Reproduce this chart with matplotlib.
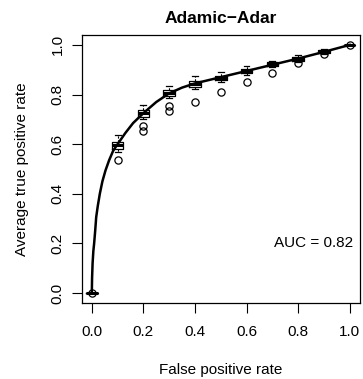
import numpy as np
import matplotlib
matplotlib.use("Agg")
import matplotlib.pyplot as plt

plt.rcParams['font.family'] = ['Liberation Sans', 'DejaVu Sans']

# averaged ROC curve
curve_fpr = [0, 0.001, 0.003, 0.006, 0.009, 0.013, 0.017, 0.023, 0.031, 0.041,
             0.053, 0.067, 0.083, 0.1, 0.13, 0.16, 0.2, 0.25, 0.3, 0.35, 0.4,
             0.5, 0.6, 0.7, 0.8, 0.9, 1.0]
curve_tpr = [0, 0.06, 0.12, 0.17, 0.2, 0.25, 0.306, 0.35, 0.4, 0.45,
             0.494, 0.535, 0.574, 0.6, 0.645, 0.685, 0.725, 0.77, 0.805, 0.828, 0.845,
             0.87, 0.895, 0.92, 0.945, 0.972, 1.0]

# boxplot summaries at each false positive rate
box_x = [0.0, 0.1, 0.2, 0.3, 0.4, 0.5, 0.6, 0.7, 0.8, 0.9, 1.0]
box_med = [0.0, 0.597, 0.725, 0.806, 0.842, 0.867, 0.894, 0.923, 0.945, 0.975, 1.0]
box_q1 = [0.0, 0.581, 0.711, 0.795, 0.831, 0.858, 0.885, 0.916, 0.936, 0.969, 1.0]
box_q3 = [0.0, 0.608, 0.738, 0.818, 0.853, 0.875, 0.902, 0.930, 0.953, 0.980, 1.0]
box_lo = [0.0, 0.570, 0.700, 0.785, 0.822, 0.850, 0.878, 0.910, 0.930, 0.965, 1.0]
box_hi = [0.0, 0.637, 0.758, 0.835, 0.875, 0.892, 0.916, 0.936, 0.958, 0.983, 1.0]
box_out = [[0.0], [0.537], [0.655, 0.675], [0.735, 0.755], [0.772], [0.812],
           [0.849], [0.885], [0.927], [0.963], [1.0]]

auc_text = "AUC = 0.82"

fig = plt.figure(figsize=(3.63, 3.79), dpi=100)
ax = fig.add_axes([81.5 / 363, 76 / 379, 278.5 / 363, 268 / 379])

stats = []
for i in range(len(box_x)):
    stats.append(dict(med=box_med[i], q1=box_q1[i], q3=box_q3[i],
                      whislo=box_lo[i], whishi=box_hi[i], fliers=box_out[i]))

ax.bxp(stats, positions=box_x, widths=0.045, manage_ticks=False,
       boxprops=dict(color='black', linewidth=0.9),
       medianprops=dict(color='black', linewidth=2.2),
       whiskerprops=dict(color='black', linewidth=0.8, linestyle=(0, (2, 1.5))),
       capprops=dict(color='black', linewidth=0.9),
       flierprops=dict(marker='o', markersize=5.2, markerfacecolor='none',
                       markeredgecolor='black', markeredgewidth=0.9))

ax.plot(curve_fpr, curve_tpr, color='black', linewidth=1.8, zorder=5)

ax.text(0.86, 0.2, auc_text, ha='center', va='center', fontsize=11)

ax.set_xlim(-0.04, 1.04)
ax.set_ylim(-0.04, 1.04)
ticks = [0.0, 0.2, 0.4, 0.6, 0.8, 1.0]
ax.set_xticks(ticks)
ax.set_yticks(ticks)
ax.set_xticklabels(["%.1f" % t for t in ticks])
ax.set_yticklabels(["%.1f" % t for t in ticks], rotation=90, va='center')
ax.tick_params(direction='out', length=7, width=0.8, labelsize=11)
ax.tick_params(axis='x', pad=9)
ax.tick_params(axis='y', pad=5)
for s in ax.spines.values():
    s.set_linewidth(0.9)

ax.set_title("Adamic\u2212Adar", fontsize=12.5, fontweight='bold', pad=9)
ax.set_xlabel("False positive rate", fontsize=11, labelpad=17)
ax.set_ylabel("Average true positive rate", fontsize=11, labelpad=16)

fig.savefig("out.png", dpi=100)
